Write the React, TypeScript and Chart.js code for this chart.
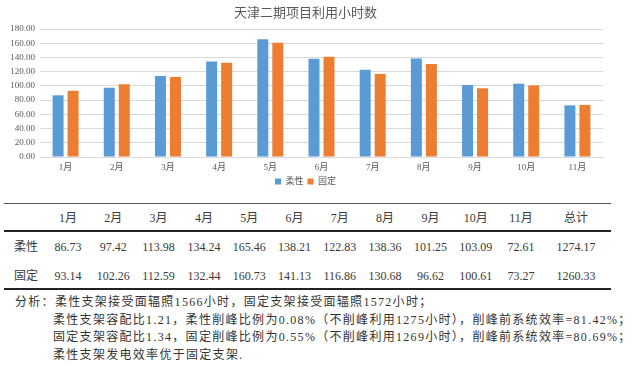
import React, { useEffect, useRef } from 'react';
import { Chart, registerables } from 'chart.js';

Chart.register(...registerables);

const chartTitle = '天津二期项目利用小时数';
const months = ['1月', '2月', '3月', '4月', '5月', '6月', '7月', '8月', '9月', '10月', '11月'];
const seriesNames = ['柔性', '固定'];
const flexible = [86.73, 97.42, 113.98, 134.24, 165.46, 138.21, 122.83, 138.36, 101.25, 103.09, 72.61];
const fixed = [93.14, 102.26, 112.59, 132.44, 160.73, 141.13, 116.86, 130.68, 96.62, 100.61, 73.27];
const totalHeader = '总计';
const totals = [1274.17, 1260.33];
const yMin = 0;
const yMax = 180;
const yStep = 20;
const analysisLines = [
  '分析：柔性支架接受面辐照1566小时，固定支架接受面辐照1572小时；',
  '柔性支架容配比1.21，柔性削峰比例为0.08%（不削峰利用1275小时），削峰前系统效率=81.42%；',
  '固定支架容配比1.34，固定削峰比例为0.55%（不削峰利用1269小时），削峰前系统效率=80.69%；',
  '柔性支架发电效率优于固定支架.',
];

const BLUE = '#5B9BD5';
const ORANGE = '#ED7D31';
const AXIS_TEXT = '#595959';
const FONT = '"Liberation Serif", "Noto Sans CJK SC", serif';
const TEXT_FONT = '"Liberation Serif", "Noto Sans CJK SC", serif';

function TableCell(props: { cx: number; cy: number; text: string; w?: number }) {
  const w = props.w ?? 50;
  return (
    <div
      style={{
        position: 'absolute',
        left: props.cx - w / 2,
        top: props.cy - 9,
        width: w,
        height: 18,
        lineHeight: '18px',
        textAlign: 'center',
        fontSize: 12,
        fontFamily: TEXT_FONT,
        color: '#3a3a3a',
        whiteSpace: 'nowrap',
      }}
    >
      {props.text}
    </div>
  );
}

export default function App() {
  const ref = useRef<HTMLCanvasElement>(null);

  useEffect(() => {
    if (!ref.current) return;
    const chart = new Chart(ref.current, {
      type: 'bar',
      data: {
        labels: months,
        datasets: [
          {
            label: seriesNames[0],
            data: flexible,
            backgroundColor: BLUE,
            categoryPercentage: 0.586,
            barPercentage: 0.733,
          },
          {
            label: seriesNames[1],
            data: fixed,
            backgroundColor: ORANGE,
            categoryPercentage: 0.586,
            barPercentage: 0.733,
          },
        ],
      },
      options: {
        responsive: false,
        maintainAspectRatio: false,
        animation: false,
        layout: { padding: { left: 8, right: 13, top: 0, bottom: 0 } },
        plugins: {
          title: {
            display: true,
            text: chartTitle,
            color: AXIS_TEXT,
            font: { size: 13, weight: 'normal', family: '"Noto Sans CJK SC", sans-serif' },
            padding: { top: 4, bottom: 9.4 },
          },
          legend: {
            position: 'bottom',
            labels: {
              boxWidth: 6,
              boxHeight: 6,
              padding: 4,
              color: AXIS_TEXT,
              font: { size: 9, family: FONT },
            },
          },
          tooltip: { enabled: false },
        },
        scales: {
          x: {
            afterFit: (s: any) => {
              s.height = 16;
            },
            grid: { display: false, drawTicks: false },
            border: { color: '#d9d9d9' },
            ticks: { padding: 5, color: AXIS_TEXT, font: { size: 9, family: FONT } },
          },
          y: {
            min: yMin,
            max: yMax,
            afterFit: (s: any) => {
              s.width = 32;
            },
            grid: { color: '#d9d9d9', drawTicks: false },
            border: { display: false },
            ticks: {
              stepSize: yStep,
              autoSkip: false,
              padding: 5,
              color: AXIS_TEXT,
              font: { size: 9, family: FONT },
              callback: (v: any) => Number(v).toFixed(2),
            },
          },
        },
      },
    });
    return () => chart.destroy();
  }, []);

  const colCenter = (i: number) => 68 + i * 45.3;
  const totalCenter = 576;
  const labelCenter = 26;
  const rowY = [218, 247, 276];
  const rowsData = [flexible, fixed];

  return (
    <div
      style={{
        position: 'absolute',
        left: 0,
        top: 0,
        width: 640,
        height: 381,
        background: '#ffffff',
        overflow: 'hidden',
      }}
    >
      <canvas ref={ref} width={616} height={196} style={{ position: 'absolute', left: 0, top: 0, width: 616, height: 196 }} />

      {/* table rules */}
      <div style={{ position: 'absolute', left: 4, top: 202.5, width: 607, height: 1, background: '#555' }} />
      <div style={{ position: 'absolute', left: 4, top: 230, width: 607, height: 2, background: '#222' }} />
      <div style={{ position: 'absolute', left: 4, top: 288, width: 607, height: 2, background: '#222' }} />

      {/* header row */}
      {months.map((m, i) => (
        <TableCell key={'h' + i} cx={colCenter(i)} cy={rowY[0]} text={m} />
      ))}
      <TableCell cx={totalCenter} cy={rowY[0]} text={totalHeader} />

      {/* data rows */}
      {rowsData.map((row, r) => (
        <React.Fragment key={'r' + r}>
          <TableCell cx={labelCenter} cy={rowY[r + 1]} text={seriesNames[r]} />
          {row.map((v, i) => (
            <TableCell key={'c' + r + '-' + i} cx={colCenter(i)} cy={rowY[r + 1]} text={v.toFixed(2)} />
          ))}
          <TableCell cx={totalCenter} cy={rowY[r + 1]} text={totals[r].toFixed(2)} w={60} />
        </React.Fragment>
      ))}

      {/* analysis text */}
      {analysisLines.map((line, i) => (
        <div
          key={'a' + i}
          style={{
            position: 'absolute',
            left: i === 0 ? 15 : 53,
            top: 302 + i * 17.5 - 8,
            height: 16,
            lineHeight: '16px',
            fontSize: 12,
            letterSpacing: '1.3px',
            fontFamily: TEXT_FONT,
            color: '#333',
            whiteSpace: 'nowrap',
          }}
        >
          {line}
        </div>
      ))}
    </div>
  );
}
